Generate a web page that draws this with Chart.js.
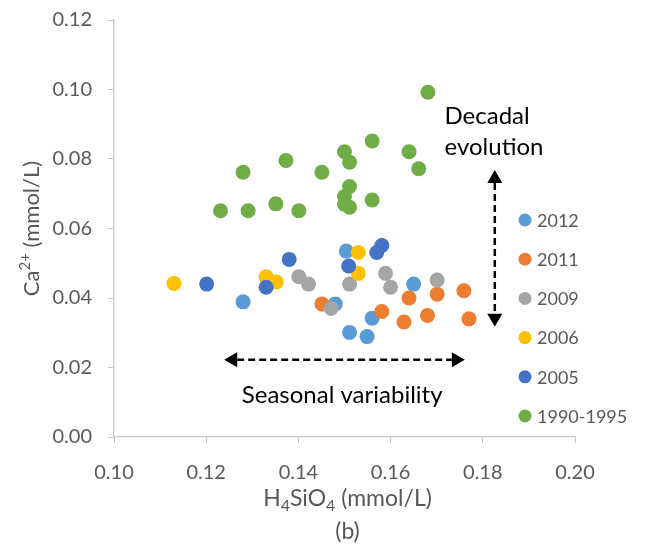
<!DOCTYPE html>
<html>
<head>
<meta charset="utf-8">
<script src="https://cdn.jsdelivr.net/npm/chart.js@4.4.1/dist/chart.umd.min.js"></script>
<style>
  html, body { margin: 0; padding: 0; background: #fff; }
  #wrap { width: 646px; height: 554px; }
</style>
</head>
<body>
<div id="wrap"><canvas id="chart"></canvas></div>
<script>
// H4SiO4 (x) and Ca2+ (y) in mmol/L, one pair of arrays per sampling period
const series = ['2012', '2011', '2009', '2006', '2005', '1990-1995']
const colors = ['#5B9BD5', '#ED7D31', '#A5A5A5', '#FFC000', '#4472C4', '#70AD47']

const si2012 = [0.1504, 0.128, 0.148, 0.156, 0.1511, 0.1549, 0.165]
const ca2012 = [0.0535, 0.0389, 0.0383, 0.0342, 0.0301, 0.0289, 0.044]

const si2011 = [0.1451, 0.1581, 0.164, 0.1701, 0.1759, 0.1629, 0.168, 0.177]
const ca2011 = [0.0383, 0.0361, 0.040, 0.0411, 0.0421, 0.0331, 0.035, 0.034]

const si2009 = [0.1401, 0.1422, 0.1511, 0.1471, 0.1589, 0.160, 0.1701]
const ca2009 = [0.0461, 0.044, 0.044, 0.037, 0.0471, 0.0431, 0.0452]

const si2006 = [0.113, 0.133, 0.1352, 0.153, 0.153]
const ca2006 = [0.0442, 0.0461, 0.0446, 0.0531, 0.0471]

const si2005 = [0.1201, 0.138, 0.133, 0.1509, 0.157, 0.1581]
const ca2005 = [0.044, 0.0511, 0.0431, 0.0492, 0.0531, 0.0551]

const si1990 = [0.1681, 0.156, 0.150, 0.1511, 0.164, 0.1661, 0.128, 0.1373, 0.1451,
                0.1511, 0.150, 0.150, 0.1511, 0.156, 0.1231, 0.1291, 0.1351, 0.1401]
const ca1990 = [0.0992, 0.0852, 0.0821, 0.0791, 0.0821, 0.0772, 0.0762, 0.0796, 0.0762,
                0.0721, 0.0692, 0.067, 0.0661, 0.0682, 0.0651, 0.0651, 0.0671, 0.0651]

const siValues = [si2012, si2011, si2009, si2006, si2005, si1990]
const caValues = [ca2012, ca2011, ca2009, ca2006, ca2005, ca1990]

const xTicks = [0.10, 0.12, 0.14, 0.16, 0.18, 0.20]
const yTicks = [0.00, 0.02, 0.04, 0.06, 0.08, 0.10, 0.12]

const FONT = 'Lato, "Noto Sans", sans-serif'
const GREY_TEXT = '#595959'
const AXIS_LINE = '#C8C8C8'

// draw text made of normal / sub / sup runs, centred on (x, y)
function richText(ctx, parts, x, y, size) {
  const small = Math.round(size * 0.68)
  let total = 0
  parts.forEach(p => {
    ctx.font = `${p.s ? small : size}px ${FONT}`
    p.w = ctx.measureText(p.t).width
    total += p.w
  })
  let cx = x - total / 2
  ctx.textAlign = 'left'
  ctx.textBaseline = 'middle'
  parts.forEach(p => {
    ctx.font = `${p.s ? small : size}px ${FONT}`
    let dy = 0
    if (p.s === 'sub') dy = size * 0.3
    if (p.s === 'sup') dy = -size * 0.32
    ctx.fillText(p.t, cx, y + dy)
    cx += p.w
  })
}

function dashedArrow(ctx, x1, y1, x2, y2) {
  const ang = Math.atan2(y2 - y1, x2 - x1)
  const head = 13, half = 7.5
  ctx.save()
  ctx.strokeStyle = '#000'
  ctx.fillStyle = '#000'
  ctx.lineWidth = 2.5
  ctx.setLineDash([7, 4])
  ctx.beginPath()
  ctx.moveTo(x1 + Math.cos(ang) * head, y1 + Math.sin(ang) * head)
  ctx.lineTo(x2 - Math.cos(ang) * head, y2 - Math.sin(ang) * head)
  ctx.stroke()
  ctx.setLineDash([])
  const tip = (tx, ty, a) => {
    ctx.beginPath()
    ctx.moveTo(tx, ty)
    ctx.lineTo(tx - Math.cos(a) * head - Math.sin(a) * half, ty - Math.sin(a) * head + Math.cos(a) * half)
    ctx.lineTo(tx - Math.cos(a) * head + Math.sin(a) * half, ty - Math.sin(a) * head - Math.cos(a) * half)
    ctx.closePath()
    ctx.fill()
  }
  tip(x2, y2, ang)
  tip(x1, y1, ang + Math.PI)
  ctx.restore()
}

const decorations = {
  id: 'decorations',
  afterDraw(chart) {
    const { ctx, chartArea, scales: { x, y } } = chart
    ctx.save()

    // axis titles
    ctx.fillStyle = GREY_TEXT
    const midX = (chartArea.left + chartArea.right) / 2 + 3
    richText(ctx, [{ t: 'H' }, { t: '4', s: 'sub' }, { t: 'SiO' }, { t: '4', s: 'sub' }, { t: ' (mmol/L)' }],
      midX, chartArea.bottom + 62, 23)
    richText(ctx, [{ t: '(b)' }], midX, chartArea.bottom + 95, 23)
    ctx.save()
    ctx.translate(32, (chartArea.top + chartArea.bottom) / 2)
    ctx.rotate(-Math.PI / 2)
    richText(ctx, [{ t: 'Ca' }, { t: '2+', s: 'sup' }, { t: ' (mmol/L)' }], 0, 0, 22)
    ctx.restore()

    // annotations
    ctx.fillStyle = '#000'
    ctx.font = `24px ${FONT}`
    ctx.textBaseline = 'middle'
    ctx.textAlign = 'left'
    ctx.fillText('Decadal', x.getPixelForValue(0.1717), y.getPixelForValue(0.0922))
    ctx.fillText('evolution', x.getPixelForValue(0.1717), y.getPixelForValue(0.0833))
    ctx.textAlign = 'center'
    ctx.fillText('Seasonal variability', x.getPixelForValue(0.1495), y.getPixelForValue(0.0121))

    dashedArrow(ctx, x.getPixelForValue(0.1826), y.getPixelForValue(0.0768),
      x.getPixelForValue(0.1826), y.getPixelForValue(0.0317))
    dashedArrow(ctx, x.getPixelForValue(0.1239), y.getPixelForValue(0.0222),
      x.getPixelForValue(0.1761), y.getPixelForValue(0.0222))

    // legend
    const lx = chartArea.right - 50
    ctx.font = `18px ${FONT}`
    ctx.textAlign = 'left'
    series.forEach((name, i) => {
      const ly = chartArea.top + 200 + i * 39.2
      ctx.fillStyle = colors[i]
      ctx.beginPath()
      ctx.arc(lx, ly, 6.5, 0, Math.PI * 2)
      ctx.fill()
      ctx.fillStyle = GREY_TEXT
      ctx.fillText(name, lx + 12, ly + 1)
    })
    ctx.restore()
  }
}

const datasets = series.map((name, i) => ({
  label: name,
  data: siValues[i].map((v, k) => ({ x: v, y: caValues[i][k] })),
  backgroundColor: colors[i],
  borderWidth: 0,
  pointRadius: 7.5,
  pointHoverRadius: 7.5,
  // later periods are painted over earlier ones
  order: series.length - 1 - i
}))

new Chart(document.getElementById('chart'), {
  type: 'scatter',
  data: { datasets },
  options: {
    responsive: true,
    maintainAspectRatio: false,
    animation: false,
    layout: { padding: { top: 20, right: 71, bottom: 0, left: 0 } },
    scales: {
      x: {
        type: 'linear',
        min: 0.10,
        max: 0.20,
        afterBuildTicks: axis => { axis.ticks = xTicks.map(v => ({ value: v })) },
        afterFit: axis => { axis.height = 117 },
        grid: { drawOnChartArea: false, drawTicks: true, tickLength: 6, color: AXIS_LINE },
        border: { color: AXIS_LINE, width: 1.3 },
        ticks: {
          color: GREY_TEXT,
          font: { family: FONT, size: 20 },
          padding: 18,
          maxRotation: 0,
          callback: v => v.toFixed(2)
        }
      },
      y: {
        type: 'linear',
        min: 0,
        max: 0.12,
        afterBuildTicks: axis => { axis.ticks = yTicks.map(v => ({ value: v })) },
        afterFit: axis => {
          axis.width = 114
          // label padding should not push the plot area down
          axis.paddingTop = 12
          axis.paddingBottom = 12
        },
        grid: { drawOnChartArea: false, drawTicks: true, tickLength: 6, color: AXIS_LINE },
        border: { color: AXIS_LINE, width: 1.3 },
        ticks: {
          color: GREY_TEXT,
          font: { family: FONT, size: 20 },
          padding: 16,
          callback: v => v.toFixed(2)
        }
      }
    },
    plugins: {
      legend: { display: false },
      tooltip: { enabled: false }
    }
  },
  plugins: [decorations]
})
</script>
</body>
</html>
